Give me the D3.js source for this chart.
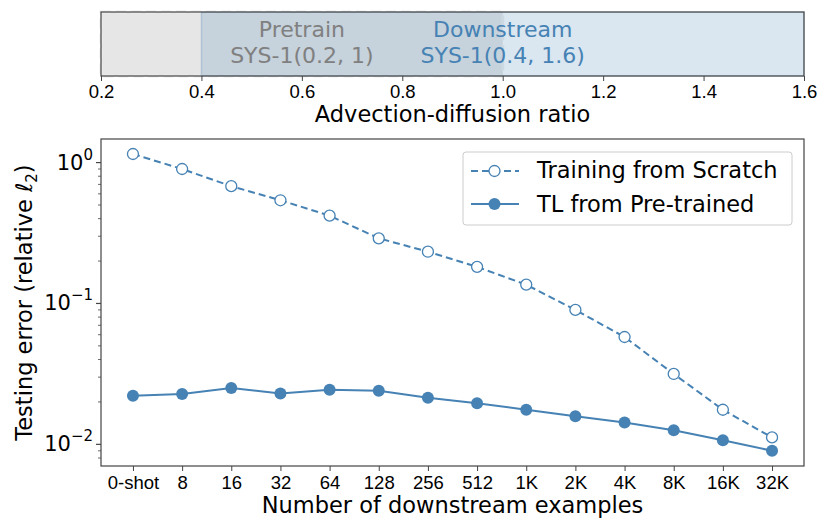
<!DOCTYPE html>
<html>
<head>
<meta charset="utf-8">
<script src="https://cdn.jsdelivr.net/npm/d3@7"></script>
<style>
  body { margin: 0; background: #fff; }
  svg { font-family: "DejaVu Sans", sans-serif; }
</style>
</head>
<body>
<div id="chart-container"></div>
<script>
const categories = ["0-shot", "8", "16", "32", "64", "128", "256", "512", "1K", "2K", "4K", "8K", "16K", "32K"];
const scratchValues = [1.15, 0.90, 0.68, 0.54, 0.42, 0.29, 0.233, 0.182, 0.136, 0.090, 0.0578, 0.0316, 0.0176, 0.0112];
const pretrainedValues = [0.0221, 0.0228, 0.0251, 0.0230, 0.0244, 0.0240, 0.0214, 0.0196, 0.0176, 0.0158, 0.0143, 0.0126, 0.0107, 0.0090];
const ratioTicks = [0.2, 0.4, 0.6, 0.8, 1.0, 1.2, 1.4, 1.6];
const pretrainRange = [0.2, 1.0];
const downstreamRange = [0.4, 1.6];
const yTickExponents = [0, -1, -2];

const W = 830, H = 529;
const blue = "steelblue";
const axisColor = "#444";

const svg = d3.select("#chart-container").append("svg")
  .attr("width", W).attr("height", H);

// ---- top panel: parameter ranges
const topBox = { left: 101, right: 804, top: 12, bottom: 76 };
const xr = d3.scaleLinear().domain([0.2, 1.6]).range([topBox.left, topBox.right]);

svg.append("rect")
  .attr("x", xr(pretrainRange[0])).attr("y", topBox.top)
  .attr("width", xr(pretrainRange[1]) - xr(pretrainRange[0]))
  .attr("height", topBox.bottom - topBox.top)
  .attr("fill", "gray").attr("fill-opacity", 0.2)
  .attr("stroke", "#eee").attr("stroke-width", 3)
  .attr("stroke-dasharray", "10,5");

svg.append("rect")
  .attr("x", xr(downstreamRange[0])).attr("y", topBox.top)
  .attr("width", xr(downstreamRange[1]) - xr(downstreamRange[0]))
  .attr("height", topBox.bottom - topBox.top)
  .attr("fill", blue).attr("fill-opacity", 0.2)
  .attr("stroke", blue).attr("stroke-opacity", 0.25).attr("stroke-width", 1.5);

// spines of the top panel
svg.append("rect").attr("x", topBox.left).attr("y", topBox.top)
  .attr("width", topBox.right - topBox.left).attr("height", topBox.bottom - topBox.top)
  .attr("fill", "none").attr("stroke", axisColor).attr("stroke-width", 1.2);

const topText = svg.append("g").attr("font-size", 22).attr("text-anchor", "middle");
topText.append("text").attr("x", xr(0.6)).attr("y", 37).attr("fill", "gray").text("Pretrain");
topText.append("text").attr("x", xr(0.6)).attr("y", 63).attr("fill", "gray").text("SYS-1(0.2, 1)");
topText.append("text").attr("x", xr(1.0)).attr("y", 37).attr("fill", blue).text("Downstream");
topText.append("text").attr("x", xr(1.0)).attr("y", 63).attr("fill", blue).text("SYS-1(0.4, 1.6)");

const topAxis = svg.append("g")
  .attr("transform", `translate(0,${topBox.bottom})`)
  .call(d3.axisBottom(xr).tickValues(ratioTicks).tickFormat(d3.format(".1f")).tickSize(5).tickPadding(4));
topAxis.select(".domain").remove();
topAxis.selectAll(".tick line").attr("stroke", axisColor);
topAxis.selectAll("text").attr("font-size", 18.5).attr("fill", "#000");

svg.append("text").attr("x", (topBox.left + topBox.right) / 2).attr("y", 122)
  .attr("text-anchor", "middle").attr("font-size", 22.5).text("Advection-diffusion ratio");

// ---- bottom panel
const m = { left: 101, right: 804, top: 139, bottom: 466 };
const idx = d3.range(categories.length);
const x = d3.scaleLinear().domain([-0.65, categories.length - 1 + 0.65]).range([m.left, m.right]);
const y = d3.scaleLog().domain([0.00702, 1.47]).range([m.bottom, m.top]);

svg.append("rect").attr("x", m.left).attr("y", m.top)
  .attr("width", m.right - m.left).attr("height", m.bottom - m.top)
  .attr("fill", "none").attr("stroke", axisColor).attr("stroke-width", 1.2);

const xAxis = svg.append("g").attr("transform", `translate(0,${m.bottom})`)
  .call(d3.axisBottom(x).tickValues(idx).tickFormat(i => categories[i]).tickSize(5).tickPadding(5));
xAxis.select(".domain").remove();
xAxis.selectAll(".tick line").attr("stroke", axisColor);
xAxis.selectAll("text").attr("font-size", 18.5).attr("fill", "#000");

// minor ticks
const minor = [];
[-3, -2, -1, 0].forEach(e => d3.range(2, 10).forEach(k => {
  const v = k * Math.pow(10, e);
  if (v > y.domain()[0] && v < y.domain()[1]) minor.push(v);
}));
svg.append("g").selectAll("line").data(minor).join("line")
  .attr("x1", m.left - 3).attr("x2", m.left)
  .attr("y1", d => y(d)).attr("y2", d => y(d))
  .attr("stroke", axisColor).attr("stroke-width", 0.8);

const yt = svg.append("g");
yTickExponents.forEach(e => {
  const yy = y(Math.pow(10, e));
  yt.append("line").attr("x1", m.left - 5).attr("x2", m.left)
    .attr("y1", yy).attr("y2", yy).attr("stroke", axisColor).attr("stroke-width", 1.2);
  const t = yt.append("text").attr("x", m.left - 8).attr("y", yy + 7)
    .attr("text-anchor", "end").attr("font-size", 21);
  t.append("tspan").text("10");
  t.append("tspan").attr("font-size", 15).attr("dy", -10).text(e === 0 ? "0" : "\u2212" + (-e));
});

svg.append("text")
  .attr("transform", `translate(32,${(m.top + m.bottom) / 2}) rotate(-90)`)
  .attr("text-anchor", "middle").attr("font-size", 22.5)
  .html('Testing error (relative <tspan font-style="italic">ℓ</tspan><tspan font-size="15" dy="5">2</tspan><tspan dy="-5">)</tspan>');

svg.append("text").attr("x", (m.left + m.right) / 2).attr("y", 513)
  .attr("text-anchor", "middle").attr("font-size", 22.5).text("Number of downstream examples");

const line = d3.line().x((d, i) => x(i)).y(d => y(d));

svg.append("path").datum(scratchValues).attr("d", line)
  .attr("fill", "none").attr("stroke", blue).attr("stroke-width", 2)
  .attr("stroke-dasharray", "7,4");
svg.append("g").selectAll("circle").data(scratchValues).join("circle")
  .attr("cx", (d, i) => x(i)).attr("cy", d => y(d)).attr("r", 5.5)
  .attr("fill", "#fff").attr("stroke", blue).attr("stroke-width", 1.3);

svg.append("path").datum(pretrainedValues).attr("d", line)
  .attr("fill", "none").attr("stroke", blue).attr("stroke-width", 2);
svg.append("g").selectAll("circle").data(pretrainedValues).join("circle")
  .attr("cx", (d, i) => x(i)).attr("cy", d => y(d)).attr("r", 6)
  .attr("fill", blue);

// legend
const lg = svg.append("g");
lg.append("rect").attr("x", 463).attr("y", 152).attr("width", 329).attr("height", 73)
  .attr("rx", 3).attr("fill", "#fff").attr("fill-opacity", 0.8)
  .attr("stroke", "#ccc").attr("stroke-width", 1);
lg.append("line").attr("x1", 471).attr("x2", 519).attr("y1", 171).attr("y2", 171)
  .attr("stroke", blue).attr("stroke-width", 2).attr("stroke-dasharray", "7,4");
lg.append("circle").attr("cx", 494.5).attr("cy", 171).attr("r", 5.5)
  .attr("fill", "#fff").attr("stroke", blue).attr("stroke-width", 1.3);
lg.append("line").attr("x1", 471).attr("x2", 519).attr("y1", 204).attr("y2", 204)
  .attr("stroke", blue).attr("stroke-width", 2);
lg.append("circle").attr("cx", 494.5).attr("cy", 204).attr("r", 6).attr("fill", blue);
lg.append("text").attr("x", 537).attr("y", 178).attr("font-size", 22.5).text("Training from Scratch");
lg.append("text").attr("x", 537).attr("y", 212).attr("font-size", 22.5).text("TL from Pre-trained");
</script>
</body>
</html>
